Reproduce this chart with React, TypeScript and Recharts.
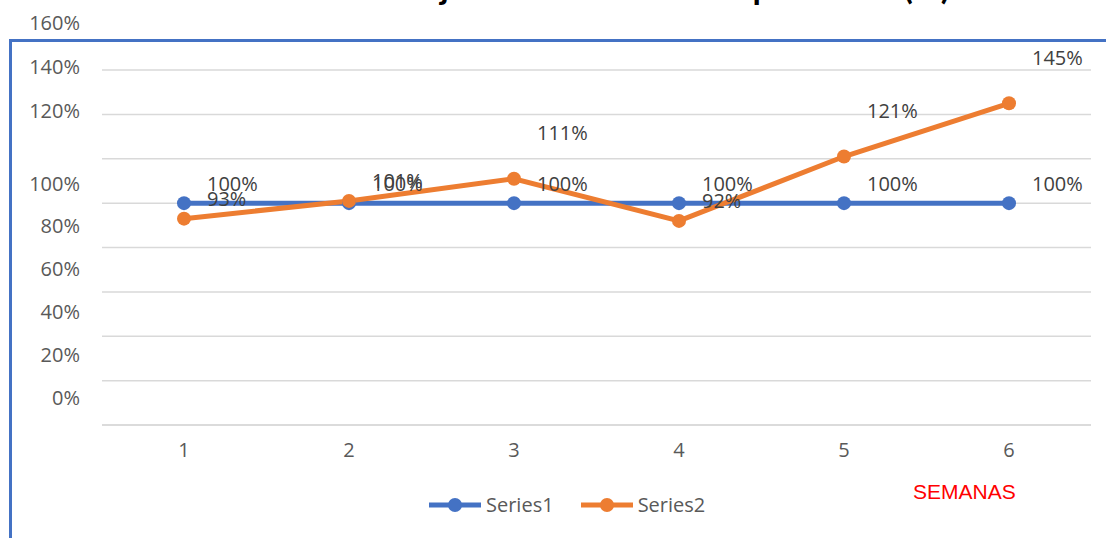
import React from 'react';
import { LineChart, Line, XAxis, YAxis, CartesianGrid, Legend } from 'recharts';

const weeks = ['1', '2', '3', '4', '5', '6'];
const series1 = [1.0, 1.0, 1.0, 1.0, 1.0, 1.0];
const series2 = [0.93, 1.01, 1.11, 0.92, 1.21, 1.45];
const yTicks = [0, 0.2, 0.4, 0.6, 0.8, 1.0, 1.2, 1.4, 1.6];
const seriesNames = ['Series1', 'Series2'];
const titleText = 'Porcentaje de avance del cumplimiento (%)';
const xAxisTitle = 'SEMANAS';

const data = weeks.map((w, i) => ({ week: w, s1: series1[i], s2: series2[i] }));

const BLUE = '#4472C4';
const ORANGE = '#ED7D31';
const FONT = '"Open Sans", "Noto Sans", sans-serif';

const pct = (v: number) => `${Math.round(v * 100)}%`;

const YTick = (props: any) => {
  const { x, y, payload } = props;
  const v = payload.value as number;
  const dy = v > 1.05 ? -48 : -20 - (1 - v) * 8;
  return (
    <text x={x} y={y + dy} textAnchor="end" dominantBaseline="central" fill="#595959" fontSize={20} fontFamily={FONT}>
      {pct(v)}
    </text>
  );
};

const DataLabel = (props: any) => {
  const { x, y, value } = props;
  const dy = value > 1.05 ? -46 : -20;
  return (
    <text x={x + 23} y={y + dy} textAnchor="start" dominantBaseline="central" fill="#404040" fontSize={20} fontFamily={FONT}>
      {pct(value)}
    </text>
  );
};

const LegendContent = () => (
  <div style={{ display: 'flex', alignItems: 'center', fontFamily: FONT, fontSize: 20, color: '#595959' }}>
    {[BLUE, ORANGE].map((c, i) => (
      <div key={i} style={{ display: 'flex', alignItems: 'center', marginRight: 26 }}>
        <svg width={54} height={16}>
          <line x1={1} y1={8} x2={53} y2={8} stroke={c} strokeWidth={5} />
          <circle cx={27} cy={8} r={7} fill={c} />
        </svg>
        <span style={{ marginLeft: 4, lineHeight: '20px' }}>{seriesNames[i]}</span>
      </div>
    ))}
  </div>
);

export default function App() {
  return (
    <div style={{ position: 'absolute', left: 0, top: 0, width: 1106, height: 538, background: '#fff', overflow: 'hidden' }}>
      <div
        style={{
          position: 'absolute',
          left: 9,
          top: 39,
          width: 1097,
          height: 499,
          boxSizing: 'border-box',
          borderTop: `3px solid ${BLUE}`,
          borderLeft: `3px solid ${BLUE}`,
        }}
      />
      <div style={{ position: 'absolute', left: 0, top: 0 }}>
        <LineChart width={1106} height={538} data={data} margin={{ top: 70, right: 15, left: 10, bottom: 43 }}>
          <text x={950} y={-1} textAnchor="end" fontSize={34} fontWeight="bold" fontFamily="Lato, sans-serif" fill="#000">
            {titleText}
          </text>
          <CartesianGrid vertical={false} stroke="#D9D9D9" strokeWidth={1.5} />
          <XAxis
            dataKey="week"
            height={50}
            padding={{ left: 82, right: 82 }}
            axisLine={{ stroke: '#D9D9D9', strokeWidth: 1.5 }}
            tickLine={false}
            tickSize={0}
            tickMargin={18}
            tick={{ fill: '#595959', fontSize: 20, fontFamily: FONT }}
          />
          <YAxis
            width={92}
            domain={[0, 1.6]}
            ticks={yTicks}
            axisLine={false}
            tickLine={false}
            tickSize={0}
            tickMargin={22}
            tick={<YTick />}
            interval={0}
          />
          <Legend
            verticalAlign="bottom"
            content={<LegendContent />}
            wrapperStyle={{ position: 'absolute', left: 428, top: 495, width: 340, height: 20 }}
          />
          <Line
            dataKey="s1"
            name={seriesNames[0]}
            stroke={BLUE}
            strokeWidth={5}
            dot={{ r: 7, fill: BLUE, stroke: BLUE, strokeWidth: 0 }}
            isAnimationActive={false}
            label={<DataLabel />}
          />
          <Line
            dataKey="s2"
            name={seriesNames[1]}
            stroke={ORANGE}
            strokeWidth={5}
            dot={{ r: 7, fill: ORANGE, stroke: ORANGE, strokeWidth: 0 }}
            isAnimationActive={false}
            label={<DataLabel />}
          />
        </LineChart>
      </div>
      <div style={{ position: 'absolute', left: 913, top: 480, fontFamily: '"Liberation Sans", Arial, sans-serif', fontSize: 21, color: '#FF0000' }}>
        {xAxisTitle}
      </div>
    </div>
  );
}
